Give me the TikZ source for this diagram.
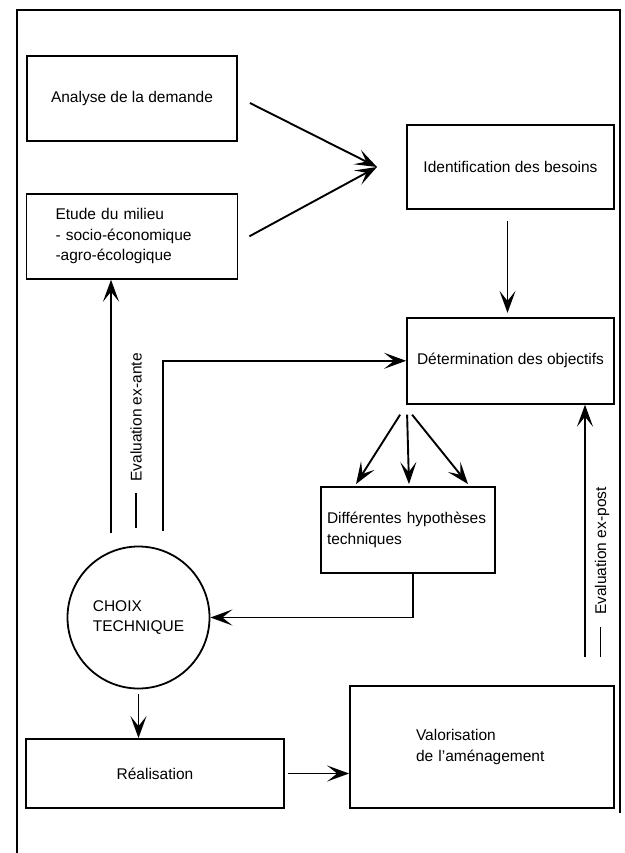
\documentclass[tikz,border=0pt]{standalone}
\usepackage{fontspec}
\setmainfont{Liberation Sans}
\usetikzlibrary{arrows.meta,positioning,calc}

\begin{document}
\begin{tikzpicture}[
    x=1pt, y=-1pt,
    every node/.style={font=\fontsize{15.5}{20.5}\selectfont},
    bloc/.style={rectangle, draw=black, line width=1.8pt, inner sep=0pt, align=center},
    rond/.style={circle, draw=black, line width=1.8pt, inner sep=0pt, minimum size=142pt, align=left},
    fleche/.style={-{Stealth[length=22pt,width=16pt,inset=10pt]}, line width=1.9pt},
    legende/.style={rotate=90, inner sep=0pt}
]
\useasboundingbox (0,0) rectangle (624,853);

% Frame
\draw[line width=2.2pt] (17,853) -- (17,10) -- (620,10) -- (620,813);

% Boxes
\node[bloc, minimum width=210pt, minimum height=85pt] (analyse) at (132,98.5) {Analyse de la demande};
\node[bloc, below=51pt of analyse, text width=153pt, inner xsep=29pt, minimum height=85pt, align=left] (etude) {Etude du milieu\\- socio-économique\\-agro-écologique};
\node[bloc, minimum width=207pt, minimum height=84pt] (ident) at (510.5,167) {Identification des besoins};
\node[bloc, below=107pt of ident, minimum width=207pt, minimum height=86pt] (determ) {Détermination des objectifs};
\node[bloc, text width=162pt, inner xsep=6pt, minimum height=86pt, align=left] (hypo) at (408,530) {Différentes hypothèses\\techniques};
\node[rond] (choix) at (138.5,617.5) {CHOIX\\TECHNIQUE};
\node[bloc, minimum width=258pt, minimum height=69pt] (realis) at (155,773.5) {Réalisation};
\node[bloc, text width=132pt, inner xsep=66pt, minimum height=122pt, align=left] (valor) at (482,747) {Valorisation\\de l'aménagement};

% Legends
\node[legende] (exante) at (136,440.5) {\rule[0.32em]{35pt}{1.2pt}\hspace{11pt}Evaluation ex-ante};
\node[legende] (expost) at (602,572) {\rule[0.32em]{30pt}{1.2pt}\hspace{12pt}Evaluation ex-post};

% Connections
\coordinate (conv) at (377,167);
\draw[fleche] ([xshift=12pt,yshift=-4.5pt]analyse.east) -- (conv);
\draw[fleche] ([xshift=11pt]etude.east) -- (conv);
\draw[fleche] ([xshift=-3pt,yshift=-11pt]ident.south) -- ([xshift=-3pt,yshift=4pt]determ.north);

\draw[fleche] ([xshift=-27.5pt,yshift=13pt]choix.north) -- ([xshift=-27.5pt]choix.north |- etude.south);
\draw[fleche] ([xshift=24.5pt,yshift=15pt]choix.north) |- (determ.west);

\draw[fleche] ([xshift=-6pt,yshift=-10pt]determ.south west) -- ([xshift=-52pt,yshift=2pt]hypo.north);
\draw[fleche] ([xshift=1pt,yshift=-10pt]determ.south west) -- ([xshift=1pt,yshift=2pt]hypo.north);
\draw[fleche] ([xshift=6pt,yshift=-10pt]determ.south west) -- ([xshift=60pt,yshift=2pt]hypo.north);

\draw[fleche] ([xshift=5pt]hypo.south) |- (choix.east);
\draw[fleche] ([yshift=-5pt]choix.south) -- (choix.south |- realis.north);
\draw[fleche] ([xshift=3pt]realis.east) -- (realis.east -| valor.west);

\coordinate (postbas) at (585,657);
\draw[fleche] (postbas) -- (postbas |- determ.south);

\end{tikzpicture}
\end{document}
